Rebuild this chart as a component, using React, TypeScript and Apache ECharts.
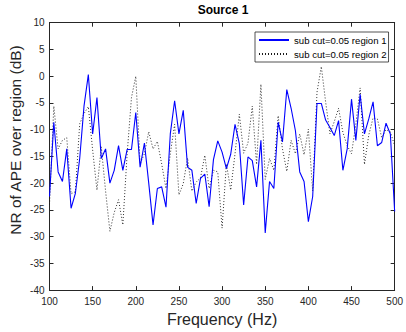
import { useEffect, useRef } from "react";
import * as echarts from "echarts";

const frequencies = [
  100, 105, 110, 115, 120, 125, 130, 135, 140, 145, 150, 155, 160, 165, 170, 175, 180, 185, 190, 195,
  200, 205, 210, 215, 220, 225, 230, 235, 240, 245, 250, 255, 260, 265, 270, 275, 280, 285, 290, 295,
  300, 305, 310, 315, 320, 325, 330, 335, 340, 345, 350, 355, 360, 365, 370, 375, 380, 385, 390, 395,
  400, 405, 410, 415, 420, 425, 430, 435, 440, 445, 450, 455, 460, 465, 470, 475, 480, 485, 490, 495,
  500,
];

const region1 = [
  -22.5, -8.6, -17.9, -19.7, -13.6, -24.7, -21.9, -15.4, -5.6, 0.3,
  -10.8, -4.0, -15.4, -13.6, -20.0, -17.6, -13.0, -17.6, -13.7, -13.7,
  -6.8, -17.0, -12.5, -20.0, -27.8, -21.0, -20.7, -24.5, -10.8, -4.6,
  -10.8, -6.4, -17.0, -17.6, -23.8, -19.1, -18.3, -24.4, -15.6, -12.1,
  -14.2, -17.3, -14.6, -9.0, -12.6, -24.1, -15.1, -15.8, -20.7, -12.0,
  -29.3, -19.7, -21.0, -8.6, -12.3, -2.5, -6.0, -10.2, -17.9, -19.7,
  -27.2, -22.5, -5.1, -5.1, -8.2, -9.6, -11.1, -8.3, -17.6, -13.6,
  -4.3, -12.0, -3.4, -10.8, -8.0, -4.8, -13.0, -12.4, -8.8, -10.8,
  -25.3,
];

const region2 = [
  -24.0, -5.6, -13.6, -12.0, -11.5, -22.0, -21.6, -8.9, -7.0, -5.7,
  -13.8, -21.3, -13.2, -21.5, -29.0, -25.5, -23.1, -27.8, -14.5, -4.0,
  0.0, -16.4, -14.5, -10.4, -13.6, -12.2, -16.4, -21.0, -14.5, -9.0,
  -22.2, -20.1, -15.3, -21.5, -19.8, -19.0, -14.8, -21.0, -17.6, -17.9,
  -28.4, -16.4, -21.3, -14.5, -7.1, -14.4, -12.5, -5.6, -16.5, -1.5,
  -19.3, -15.4, -17.6, -7.4, -13.6, -17.8, -12.0, -14.5, -10.8, -14.7,
  -9.9, -21.5, -3.0, 1.8, -4.8, -10.8, -8.5, -6.0, -10.5, -13.0,
  -14.5, -9.0, -2.2, -16.5, -11.0, -7.8, -8.0, -11.5, -10.0, -10.4,
  -13.0,
];

const seriesNames = ["sub cut=0.05 region 1", "sub cut=0.05 region 2"];
const titleText = "Source 1";
const xLabel = "Frequency (Hz)";
const yLabel = "NR of APE over region (dB)";

const FONT = "'Liberation Sans', Arial, Helvetica, sans-serif";
const AX = "#262626";

export default function App() {
  const ref = useRef<HTMLDivElement>(null);

  useEffect(() => {
    document.body.style.margin = "0";
    if (!ref.current) return;
    const chart = echarts.init(ref.current, undefined, { renderer: "svg" });

    const baseAxis = {
      type: "value" as const,
      axisLine: { show: true, onZero: false, lineStyle: { color: AX, width: 1 } },
      axisTick: { show: true, inside: true, length: 4, lineStyle: { color: AX, width: 1 } },
      splitLine: { show: false },
    };

    chart.setOption({
      animation: false,
      backgroundColor: "#ffffff",
      textStyle: { fontFamily: FONT },
      title: {
        text: titleText,
        left: 223,
        top: 4,
        textAlign: "center",
        padding: 0,
        textStyle: { fontFamily: FONT, fontSize: 12, fontWeight: "bold", color: "#000" },
      },
      grid: { left: 49.5, right: 9.3, top: 22.7, bottom: 39.3, containLabel: false },
      legend: {
        orient: "vertical",
        left: 255,
        top: 32,
        padding: [3, 2, 3, 3],
        itemGap: 4,
        itemWidth: 30,
        itemHeight: 9,
        backgroundColor: "#ffffff",
        borderColor: AX,
        borderWidth: 0.8,
        borderRadius: 0,
        itemStyle: { opacity: 0 },
        data: seriesNames,
        textStyle: { fontFamily: FONT, fontSize: 9.6, color: "#000", padding: 0 },
      },
      xAxis: [
        {
          ...baseAxis,
          min: 100,
          max: 500,
          interval: 50,
          position: "bottom",
          axisLabel: { color: AX, fontSize: 10, fontFamily: FONT, margin: 6 },
          name: xLabel,
          nameLocation: "middle",
          nameGap: 20,
          nameTextStyle: { color: AX, fontSize: 16, fontFamily: FONT },
        },
        {
          ...baseAxis,
          min: 100,
          max: 500,
          interval: 50,
          position: "top",
          axisLabel: { show: false },
        },
      ],
      yAxis: [
        {
          ...baseAxis,
          min: -40,
          max: 10,
          interval: 5,
          position: "left",
          axisLabel: { color: AX, fontSize: 10, fontFamily: FONT, margin: 5 },
        },
        {
          ...baseAxis,
          min: -40,
          max: 10,
          interval: 5,
          position: "right",
          axisLabel: { show: false },
        },
      ],
      graphic: [
        {
          type: "text",
          x: 15,
          y: 140,
          rotation: Math.PI / 2,
          style: {
            text: yLabel,
            fontSize: 15.5,
            fontFamily: FONT,
            fill: AX,
            align: "center",
            verticalAlign: "middle",
          },
        },
      ],
      series: [
        {
          name: seriesNames[0],
          type: "line",
          xAxisIndex: 0,
          yAxisIndex: 0,
          symbol: "none",
          data: frequencies.map((f, i) => [f, region1[i]]),
          lineStyle: { color: "#0000ff", width: 1.1, type: "solid" },
          itemStyle: { color: "#0000ff" },
          z: 3,
        },
        {
          name: seriesNames[1],
          type: "line",
          xAxisIndex: 0,
          yAxisIndex: 0,
          symbol: "none",
          data: frequencies.map((f, i) => [f, region2[i]]),
          lineStyle: { color: "#1a1a1a", width: 0.9, type: [1, 2] },
          itemStyle: { color: "#000000" },
          z: 2,
        },
      ],
    });

    return () => chart.dispose();
  }, []);

  return <div ref={ref} style={{ width: 406, height: 332 }} />;
}
